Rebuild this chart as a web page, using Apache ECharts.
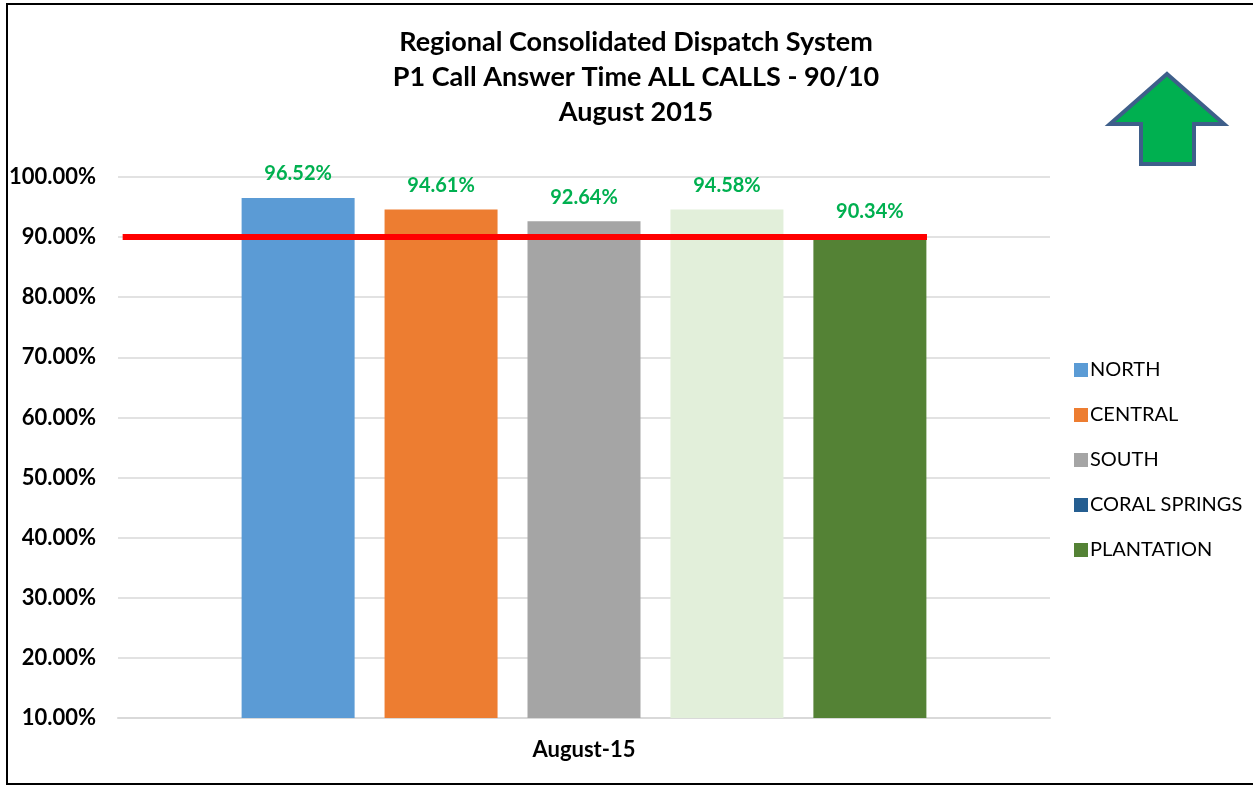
<!DOCTYPE html>
<html>
<head>
<meta charset="utf-8">
<script src="https://cdn.jsdelivr.net/npm/echarts@6/dist/echarts.min.js"></script>
<style>
  html, body { margin: 0; padding: 0; background: #fff; }
  #chart { width: 1253px; height: 786px; }
</style>
</head>
<body>
<div id="chart"></div>
<script>
const categories = ['August-15']
const regions = ['NORTH', 'CENTRAL', 'SOUTH', 'CORAL SPRINGS', 'PLANTATION']
const north = [96.52]
const central = [94.61]
const south = [92.64]
const coralSprings = [94.58]
const plantation = [90.34]
const target = 90
// span of the target line along the category band (0..1)
const targetSpan = [0.005, 0.868]
const yTicks = [10, 20, 30, 40, 50, 60, 70, 80, 90, 100]

const barColors = ['#5b9bd5', '#ed7d31', '#a5a5a5', '#e2efda', '#548235']
const legendColors = ['#5b9bd5', '#ed7d31', '#a5a5a5', '#255e91', '#548235']
const values = [north, central, south, coralSprings, plantation]

const font = 'Lato, "Open Sans", sans-serif'

const chart = echarts.init(document.getElementById('chart'))

const barSeries = regions.map((name, i) => ({
    name: name,
    type: 'bar',
    xAxisIndex: 0,
    barWidth: 113,
    barGap: '26.5%',
    itemStyle: { color: barColors[i] },
    label: {
        show: true,
        position: 'top',
        distance: 14,
        color: '#00b050',
        fontFamily: font,
        fontWeight: 'bold',
        fontSize: 20,
        formatter: p => p.value.toFixed(2) + '%'
    },
    data: values[i]
}))

const option = {
    animation: false,
    textStyle: { fontFamily: font },
    title: {
        text: 'Regional Consolidated Dispatch System\nP1 Call Answer Time ALL CALLS - 90/10\nAugust 2015',
        left: 631,
        top: 20,
        textAlign: 'center',
        textStyle: {
            fontFamily: font,
            fontWeight: 'bold',
            fontSize: 27,
            lineHeight: 35,
            color: '#000'
        }
    },
    legend: {
        orient: 'vertical',
        left: 1069,
        top: 355,
        itemWidth: 14,
        itemHeight: 14,
        itemGap: 25,
        icon: 'rect',
        textStyle: { fontFamily: font, fontSize: 20, color: '#000', padding: [0, 0, 0, -3] },
        data: regions.map((name, i) => ({ name: name, itemStyle: { color: legendColors[i] } }))
    },
    grid: { left: 118, right: 203, top: 177, bottom: 68 },
    xAxis: [
        {
            type: 'category',
            data: categories,
            axisLine: { lineStyle: { color: '#d9d9d9', width: 2 } },
            axisTick: { show: false },
            axisLabel: {
                color: '#000',
                fontFamily: font,
                fontWeight: 'bold',
                fontSize: 22,
                margin: 21
            }
        },
        {
            type: 'value',
            min: 0,
            max: 1,
            show: false
        }
    ],
    yAxis: {
        type: 'value',
        min: yTicks[0],
        max: yTicks[yTicks.length - 1],
        interval: 10,
        axisLine: { show: false },
        axisTick: { show: false },
        splitLine: { lineStyle: { color: '#d9d9d9', width: 1.5 } },
        axisLabel: {
            color: '#000',
            fontFamily: font,
            fontWeight: 'bold',
            fontSize: 22,
            margin: 22,
            formatter: v => v.toFixed(2) + '%'
        }
    },
    series: barSeries.concat([{
        name: 'Target',
        type: 'line',
        xAxisIndex: 1,
        symbol: 'none',
        silent: true,
        z: 10,
        lineStyle: { color: '#ff0000', width: 6 },
        data: targetSpan.map(x => [x, target])
    }]),
    graphic: [
        {
            type: 'rect',
            shape: { x: 7, y: 4, width: 1260, height: 780 },
            style: { fill: null, stroke: '#000', lineWidth: 2 },
            silent: true
        },
        {
            type: 'polygon',
            shape: {
                points: [[1167, 74], [1224, 124], [1194, 124], [1194, 164], [1141, 164], [1141, 124], [1110, 124]]
            },
            style: { fill: '#00b050', stroke: '#3e5f8a', lineWidth: 4, lineJoin: 'miter' },
            silent: true
        }
    ]
}

chart.setOption(option)
</script>
</body>
</html>
